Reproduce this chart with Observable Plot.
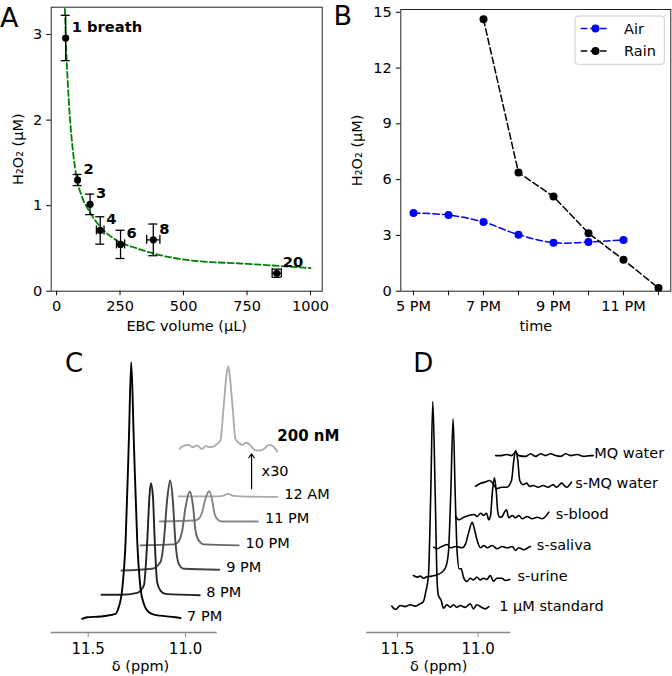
<!DOCTYPE html>
<html><head><meta charset="utf-8">
<script src="https://cdn.jsdelivr.net/npm/d3@7"></script>
<script src="https://cdn.jsdelivr.net/npm/@observablehq/plot@0.6"></script>
<style>
html,body{margin:0;padding:0;background:#fff;}
#fig{position:relative;width:672px;height:676px;overflow:hidden;font-family:"DejaVu Sans";}
#fig svg{position:absolute;overflow:visible;}
</style></head><body><div id="fig"></div>
<script>
// ---------- Panel A: H2O2 vs EBC volume ----------
const aLabels = ["1 breath", "2", "3", "4", "6", "8", "20"];
const ebcVolume = [36, 83, 132, 172, 252, 381, 867];
const ebcVolumeErr = [0, 0, 0, 15, 16, 26, 18];
const h2o2Breath = [2.96, 1.30, 1.015, 0.71, 0.547, 0.60, 0.21];
const h2o2BreathErr = [0.265, 0.065, 0.12, 0.16, 0.165, 0.185, 0.048];
const fitVolume = [33, 38, 44.5, 52.4, 64.2, 78.7, 101, 134, 173, 239, 318, 396, 528, 750, 1000];
const fitH2o2 = [3.3, 2.82, 2.43, 2.04, 1.65, 1.33, 1.10, 0.91, 0.75, 0.59, 0.50, 0.43, 0.36, 0.32, 0.27];
const aXTicks = [0, 250, 500, 750, 1000];
const aYTicks = [0, 1, 2, 3];

// ---------- Panel B: air and rain over time ----------
const timeLabels = ["5 PM", "6 PM", "7 PM", "8 PM", "9 PM", "10 PM", "11 PM", "12 AM"];
const bXTickLabels = ["5 PM", "7 PM", "9 PM", "11 PM"];
const airTimes = ["5 PM", "6 PM", "7 PM", "8 PM", "9 PM", "10 PM", "11 PM"];
const airH2o2 = [4.2, 4.1, 3.72, 3.04, 2.61, 2.64, 2.76];
const rainTimes = ["7 PM", "8 PM", "9 PM", "10 PM", "11 PM", "12 AM"];
const rainH2o2 = [14.62, 6.38, 5.09, 3.12, 1.69, 0.17];
const bYTicks = [0, 3, 6, 9, 12, 15];
const bSeries = ["Air", "Rain"];

// ---------- Panel C: stacked NMR spectra (ppm, intensity a.u.) ----------
const cLabels = ["7 PM", "8 PM", "9 PM", "10 PM", "11 PM", "12 AM"];
const c7PM = [[11.531,0],[11.505,0.6],[11.437,0.9],[11.36,1.9],[11.346,3.9],[11.325,11.7],[11.308,29.9],[11.291,70],[11.279,100],[11.266,70],[11.248,29.9],[11.231,11.7],[11.214,5.8],[11.197,3.2],[11.163,1.6],[11.052,0.6],[11.026,0.3]];
const c8PM = [[11.432,9.35],[11.334,9.35],[11.248,10.1],[11.214,13.0],[11.197,29.9],[11.185,48.1],[11.178,52.8],[11.168,48.1],[11.158,29.9],[11.146,14.3],[11.129,11.0],[11.103,9.7],[10.927,9.2]];
const c9PM = [[11.329,18.8],[11.171,19.5],[11.129,22.1],[11.112,29.9],[11.094,46.8],[11.079,53.9],[11.066,46.8],[11.052,29.9],[11.035,21.4],[11.009,19.5],[10.827,19.1]];
const c10PM = [[11.231,28.6],[11.06,29.0],[11.035,30.2],[11.017,34.4],[11.0,43.5],[10.978,49.6],[10.961,43.5],[10.949,34.4],[10.932,30.5],[10.906,29.0],[10.727,28.6]];
const c11PM = [[11.132,37.9],[10.958,38.3],[10.932,39.0],[10.915,41.5],[10.898,46.8],[10.879,49.7],[10.863,46.1],[10.851,40.9],[10.834,38.6],[10.812,37.9],[10.629,37.9]];
const c12AM = [[11.035,47.7],[10.846,47.7],[10.81,47.9],[10.781,48.7],[10.754,47.9],[10.718,47.7],[10.529,47.5]];
const c12AMx30 = [[11.031,66.2],[11.009,67.5],[10.983,67.8],[10.966,66.9],[10.94,67.5],[10.915,66.2],[10.898,67.3],[10.872,66.9],[10.837,68.2],[10.821,69.5],[10.804,83.1],[10.79,94.8],[10.781,98.4],[10.773,94.8],[10.759,83.1],[10.744,70.1],[10.727,68.6],[10.709,67.8],[10.687,68.6],[10.666,67.5],[10.641,65.6],[10.615,65.6],[10.598,66.2],[10.572,67.8],[10.555,67.5],[10.529,65.2]];
const cLabelPpm = [10.992, 10.894, 10.791, 10.692, 10.592, 10.493];
const cLabelLevel = [0.9, 10.4, 19.9, 29.5, 39.0, 48.4];
const cScaleNote = {text: "x30", ppm: 10.661, from: 50.7, to: 64.3};
const cConcNote = {text: "200 nM", ppm: 10.529, level: 71.3};
const cXTicks = [11.5, 11.0];

// ---------- Panel D: spectra of spiked samples ----------
const dLabels = ["1 µM standard", "s-urine", "s-saliva", "s-blood", "s-MQ water", "MQ water"];
const dStandard = [[11.535,0.5],[11.511,-1.1],[11.483,0.8],[11.452,0.3],[11.421,1.2],[11.39,0.5],[11.359,1.7],[11.339,2.8],[11.325,7.3],[11.308,15.4],[11.294,54.3],[11.281,100],[11.266,54.3],[11.254,12.2],[11.246,5.7],[11.229,3.3],[11.215,-0.5],[11.194,1.2],[11.173,0],[11.153,1.2],[11.132,-0.1],[11.111,0.8],[11.08,-0.1],[11.049,1.7],[11.029,-0.8],[11.008,1.2],[10.977,-0.1],[10.956,-0.8],[10.934,0.3]];
const dUrine = [[11.401,15.4],[11.38,14.6],[11.359,15.1],[11.339,14.1],[11.318,14.8],[11.287,15.1],[11.256,15.7],[11.225,17.0],[11.201,19.4],[11.184,26.7],[11.17,54.3],[11.155,91.6],[11.142,54.3],[11.13,26.7],[11.117,18.7],[11.105,18.7],[11.091,14.6],[11.07,12.5],[11.049,14.1],[11.029,13.3],[11.008,14.6],[10.987,13.3],[10.967,14.1],[10.946,13.5],[10.925,15.4],[10.905,12.6],[10.884,14.1],[10.853,14.1],[10.832,13.0],[10.804,13.5]];
const dSaliva = [[11.275,29.2],[11.256,28.4],[11.233,29.2],[11.192,30.5],[11.171,28.9],[11.14,29.5],[11.099,28.9],[11.078,30.8],[11.058,36.5],[11.037,41.3],[11.021,37.3],[11.006,32.4],[10.985,28.9],[10.965,30.0],[10.944,28.9],[10.913,30.0],[10.882,28.4],[10.851,29.5],[10.82,28.9],[10.789,29.5],[10.768,27.6],[10.748,28.9],[10.717,27.9],[10.686,29.2],[10.675,29.5]];
const dBlood = [[11.14,44.1],[11.12,42.5],[11.089,43.7],[11.058,44.6],[11.027,45.1],[11.006,44.1],[10.985,45.7],[10.965,44.6],[10.948,45.7],[10.934,42.5],[10.923,44.6],[10.911,56.7],[10.899,62.9],[10.888,56.7],[10.878,46.2],[10.866,43.7],[10.851,44.1],[10.837,46.2],[10.824,47.3],[10.81,43.5],[10.789,44.6],[10.768,43.5],[10.748,44.6],[10.727,43.0],[10.696,44.1],[10.665,43.0],[10.634,43.7],[10.603,43.0],[10.582,44.1],[10.562,46.2]];
const dSpikedMQ = [[11.016,58.8],[10.99,60.0],[10.959,60.8],[10.928,61.6],[10.907,60.0],[10.886,57.6],[10.855,58.3],[10.824,58.3],[10.793,61.6],[10.779,71.3],[10.767,76.2],[10.754,71.3],[10.742,61.6],[10.721,59.6],[10.7,60.3],[10.68,58.7],[10.659,59.2],[10.628,58.3],[10.597,59.2],[10.566,58.3],[10.535,59.6],[10.514,58.3],[10.483,60.3],[10.452,58.3],[10.421,60.8]];
const dMQ = [[10.891,73.7],[10.855,73.7],[10.824,74.2],[10.793,73.7],[10.768,75.3],[10.748,73.7],[10.706,73.3],[10.675,74.6],[10.644,73.3],[10.613,74.6],[10.582,73.7],[10.551,74.6],[10.52,73.7],[10.489,73.3],[10.458,74.6],[10.427,73.7],[10.386,74.2],[10.345,73.3],[10.303,73.7],[10.287,73.7]];
const dLabelPpm = [10.869, 10.756, 10.636, 10.519, 10.398, 10.28];
const dLabelLevel = [0.3, 14.9, 30.0, 45.1, 60.0, 74.9];
const dXTicks = [11.5, 11.0];

// ---------- styles ----------
const FONT = "DejaVu Sans";
const styleFor = size => `font-family: 'DejaVu Sans', sans-serif; font-size: ${size}px; background: transparent; color: black; overflow: visible;`;
const cColors = ["#000000", "#222222", "#444444", "#666666", "#888888", "#aaaaaa"];
const x30Color = "#aaaaaa";
const seriesColors = ["#0000ff", "#000000"];
const axisTitle = {fontSize: 14.5, textAnchor: "middle", lineAnchor: "middle"};
const fig = document.getElementById("fig");
function place(svg, left, top) { svg.style.left = left + "px"; svg.style.top = top + "px"; fig.appendChild(svg); }

// ---------- Panel A ----------
const aRows = aLabels.map((label, i) => ({label, x: ebcVolume[i], xe: ebcVolumeErr[i], y: h2o2Breath[i], ye: h2o2BreathErr[i]}));
const aXerr = aRows.filter(d => d.xe > 0);
const fitRows = fitVolume.map((x, i) => ({x, y: fitH2o2[i]}));
const eb = {stroke: "black", strokeWidth: 1.3};
place(Plot.plot({
  width: 336, height: 340, marginLeft: 50.7, marginRight: 14.3, marginTop: 6.7, marginBottom: 49.3,
  style: styleFor(14.5),
  x: {domain: [-21, 1046], label: null},
  y: {domain: [0, 3.32], label: null},
  marks: [
    Plot.line(fitRows, {x: "x", y: "y", stroke: "#008000", strokeWidth: 1.8, strokeDasharray: "6,3", curve: "monotone-x"}),
    Plot.ruleX(aRows, {x: "x", y1: d => d.y - d.ye, y2: d => d.y + d.ye, ...eb}),
    Plot.ruleY(aRows, {y: d => d.y - d.ye, x1: "x", x2: "x", insetLeft: -4.5, insetRight: -4.5, ...eb}),
    Plot.ruleY(aRows, {y: d => d.y + d.ye, x1: "x", x2: "x", insetLeft: -4.5, insetRight: -4.5, ...eb}),
    Plot.ruleY(aXerr, {y: "y", x1: d => d.x - d.xe, x2: d => d.x + d.xe, ...eb}),
    Plot.ruleX(aXerr, {x: d => d.x - d.xe, y1: "y", y2: "y", insetTop: -4.5, insetBottom: -4.5, ...eb}),
    Plot.ruleX(aXerr, {x: d => d.x + d.xe, y1: "y", y2: "y", insetTop: -4.5, insetBottom: -4.5, ...eb}),
    Plot.dot(aRows, {x: "x", y: "y", r: 3.6, fill: "black"}),
    Plot.text(aRows, {x: "x", y: "y", text: "label", dx: 6, dy: -11, textAnchor: "start", fontWeight: "bold", fontSize: 14.7}),
    Plot.frame({stroke: "#222"}),
    Plot.axisX({ticks: aXTicks, tickFormat: d3.format("d"), tickSize: 4.5, tickPadding: 5, fontSize: 14.5, label: null}),
    Plot.axisY({ticks: aYTicks, tickFormat: d3.format("d"), tickSize: 4.5, tickPadding: 4.5, fontSize: 14.5, label: null}),
    Plot.text(["EBC volume (µL)"], {frameAnchor: "bottom", dy: 35, ...axisTitle}),
    Plot.text(["H₂O₂ (µM)"], {frameAnchor: "left", rotate: -90, dx: -33, ...axisTitle})
  ]
}), 0, 0);

// ---------- Panel B ----------
const airRows = airTimes.map((t, i) => ({t, v: airH2o2[i]}));
const rainRows = rainTimes.map((t, i) => ({t, v: rainH2o2[i]}));
place(Plot.plot({
  width: 336, height: 340, marginLeft: 64.3, marginRight: 1.7, marginTop: 9, marginBottom: 49.3,
  style: styleFor(14.5),
  x: {type: "point", domain: timeLabels, padding: 0.357, label: null},
  y: {domain: [0, 15.15], label: null},
  marks: [
    Plot.line(airRows, {x: "t", y: "v", stroke: seriesColors[0], strokeWidth: 1.5, strokeDasharray: "6.5,3.2", curve: "catmull-rom"}),
    Plot.dot(airRows, {x: "t", y: "v", r: 4, fill: seriesColors[0]}),
    Plot.line(rainRows, {x: "t", y: "v", stroke: seriesColors[1], strokeWidth: 1.5, strokeDasharray: "6.5,3.2"}),
    Plot.dot(rainRows, {x: "t", y: "v", r: 4, fill: seriesColors[1]}),
    Plot.frame({stroke: "#222"}),
    Plot.axisX({ticks: timeLabels, tickFormat: d => bXTickLabels.includes(d) ? d : "", tickSize: 4.5, tickPadding: 5, fontSize: 14.5, label: null}),
    Plot.axisY({ticks: bYTicks, tickSize: 4.5, tickPadding: 4.5, fontSize: 14.5, label: null}),
    Plot.text(["time"], {frameAnchor: "bottom", dy: 35, ...axisTitle}),
    Plot.text(["H₂O₂ (µM)"], {frameAnchor: "left", rotate: -90, dx: -43.6, ...axisTitle})
  ]
}), 336, 0);

// ---------- Panel C ----------
const cTraces = [c7PM, c8PM, c9PM, c10PM, c11PM, c12AM];
const cY = [-5.34, 100];
const spec = (pts, stroke, w) => Plot.line(pts, {x: d => d[0], y: d => d[1], stroke, strokeWidth: w, curve: "monotone-x"});
place(Plot.plot({
  width: 336, height: 336, marginLeft: 50.7, marginRight: 119.3, marginTop: 21.7, marginBottom: 44,
  style: styleFor(15),
  x: {domain: [11.69, 10.8375], label: null},
  y: {domain: cY, axis: null, label: null},
  marks: [
    spec(c12AMx30, x30Color, 1.8),
    ...cTraces.map((t, i) => spec(t, cColors[i], 1.9)).reverse(),
    Plot.text(cLabels, {x: (d, i) => cLabelPpm[i], y: (d, i) => cLabelLevel[i], textAnchor: "start", fontSize: 14.5}),
    Plot.arrow([cScaleNote], {x1: "ppm", x2: "ppm", y1: "from", y2: "to", stroke: "black", strokeWidth: 1.2, headLength: 6, headAngle: 70}),
    Plot.text([cScaleNote], {x: "ppm", y: d => (d.from + d.to) / 2, text: "text", dx: 10, textAnchor: "start", fontSize: 14.5}),
    Plot.text([cConcNote], {x: "ppm", y: "level", text: "text", textAnchor: "start", fontWeight: "bold", fontSize: 15}),
    Plot.ruleY([cY[0]], {stroke: "#888", strokeWidth: 1.5}),
    Plot.axisX({ticks: cXTicks, tickFormat: d3.format(".1f"), tickSize: 5, tickPadding: 5.5, stroke: "#888", fill: "black", fontSize: 15, label: null}),
    Plot.text(["δ (ppm)"], {frameAnchor: "bottom", dy: 33.5, dx: 6.3, ...axisTitle})
  ]
}), 0, 340);

// ---------- Panel D ----------
const dTraces = [dStandard, dUrine, dSaliva, dBlood, dSpikedMQ, dMQ];
const dY = [-12.3, 100];
place(Plot.plot({
  width: 336, height: 336, marginLeft: 30, marginRight: 161.7, marginTop: 61, marginBottom: 44,
  style: styleFor(15),
  x: {domain: [11.692, 10.7975], label: null},
  y: {domain: dY, axis: null, label: null},
  marks: [
    ...dTraces.map(t => spec(t, "black", 1.6)),
    Plot.text(dLabels, {x: (d, i) => dLabelPpm[i], y: (d, i) => dLabelLevel[i], textAnchor: "start", fontSize: 14.5}),
    Plot.ruleY([dY[0]], {stroke: "#888", strokeWidth: 1.5}),
    Plot.axisX({ticks: dXTicks, tickFormat: d3.format(".1f"), tickSize: 5, tickPadding: 5.5, stroke: "#888", fill: "black", fontSize: 15, label: null}),
    Plot.text(["δ (ppm)"], {frameAnchor: "bottom", dy: 33.5, ...axisTitle})
  ]
}), 336, 340);

// ---------- overlay: panel letters and legend of B ----------
const ov = d3.create("svg").attr("width", 672).attr("height", 676)
  .style("left", "0px").style("top", "0px").style("font-family", FONT).style("pointer-events", "none");
[["A", 0, 26.5, 27], ["B", 333.5, 25, 27], ["C", 65, 372.3, 26], ["D", 413.3, 372.3, 26]].forEach(([t, x, y, s]) =>
  ov.append("text").attr("x", x).attr("y", y).attr("font-size", s).text(t));
const lg = ov.append("g");
lg.append("rect").attr("x", 575).attr("y", 16).attr("width", 89.3).attr("height", 48.3).attr("rx", 3)
  .attr("fill", "white").attr("fill-opacity", 0.85).attr("stroke", "#cccccc").attr("stroke-width", 1);
bSeries.forEach((name, i) => {
  const y = 28.6 + i * 22.4;
  lg.append("line").attr("x1", 580.7).attr("x2", 609.3).attr("y1", y).attr("y2", y)
    .attr("stroke", seriesColors[i]).attr("stroke-width", 1.5).attr("stroke-dasharray", "6.5,3.2");
  lg.append("circle").attr("cx", 595.5).attr("cy", y).attr("r", 4).attr("fill", seriesColors[i]);
  lg.append("text").attr("x", 624).attr("y", y).attr("dy", "0.35em").attr("font-size", 14.5).text(name);
});
fig.appendChild(ov.node());
</script></body></html>
